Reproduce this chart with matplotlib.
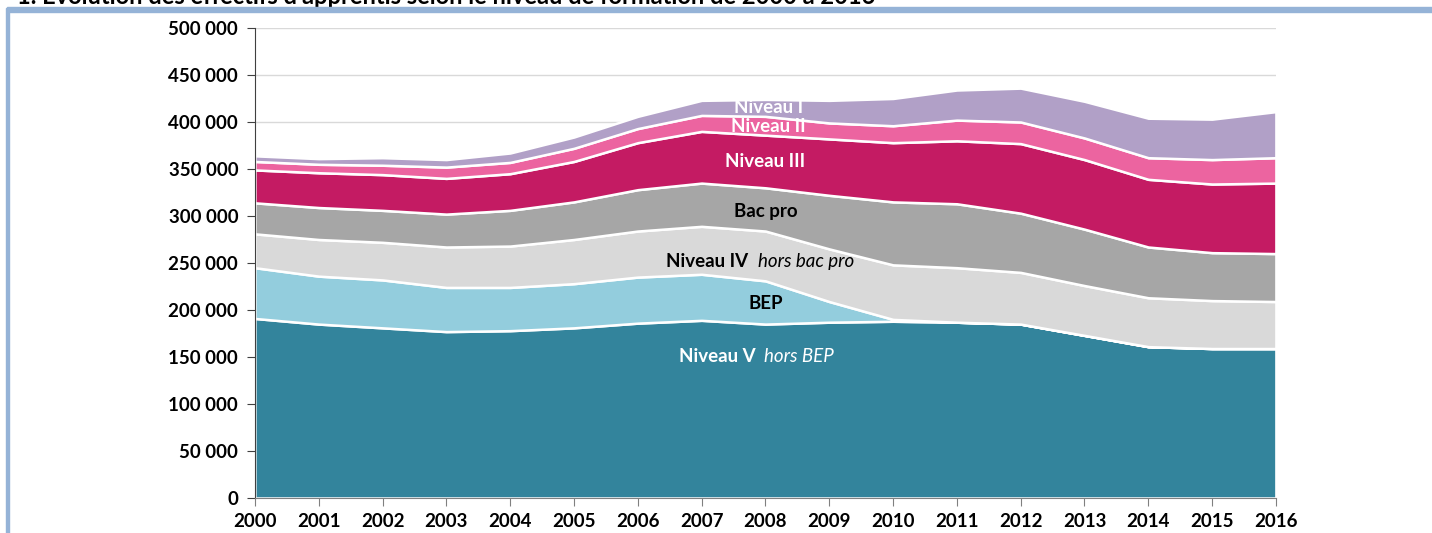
import matplotlib
matplotlib.use('Agg')
import matplotlib.pyplot as plt
from matplotlib.patches import Rectangle
from matplotlib.ticker import FuncFormatter

plt.rcParams['font.family'] = ['Lato', 'DejaVu Sans']

# effectifs d'apprentis par niveau
annees = list(range(2000, 2017))
niveau_v = [191000, 185000, 181000, 177000, 178000, 181000, 186000, 189000, 185000,
            187000, 188000, 187000, 185000, 173000, 161000, 159000, 159000]
bep = [54000, 51000, 51000, 47000, 46000, 47000, 49000, 49000, 46000,
       22000, 2000, 0, 0, 0, 0, 0, 0]
niveau_iv = [36000, 39000, 40000, 43000, 44000, 47000, 49000, 51000, 53000,
             56000, 58000, 58000, 55000, 53000, 52000, 51000, 50000]
bac_pro = [33000, 34000, 34000, 35000, 38000, 40000, 44000, 46000, 46000,
           57000, 67000, 68000, 63000, 60000, 54000, 51000, 51000]
niveau_iii = [35000, 37000, 38000, 38000, 39000, 43000, 50000, 55000, 56000,
              60000, 63000, 67000, 74000, 74000, 72000, 73000, 75000]
niveau_ii = [9000, 9000, 10000, 12000, 12000, 14000, 15000, 17000, 20000,
             17000, 18000, 22000, 23000, 23000, 23000, 26000, 27000]
niveau_i = [6000, 6000, 8000, 8000, 10000, 12000, 13000, 16000, 18000,
            24000, 29000, 32000, 36000, 39000, 42000, 43000, 49000]

series = [niveau_v, bep, niveau_iv, bac_pro, niveau_iii, niveau_ii, niveau_i]
couleurs = ['#33849C', '#93CDDD', '#D9D9D9', '#A6A6A6', '#C41B63', '#EC64A0', '#B1A0C7']

fig = plt.figure(figsize=(14.32, 5.33), dpi=100)
ax = fig.add_axes([0.178, 0.0657, 0.713, 0.8818])

ax.stackplot(annees, *series, colors=couleurs, edgecolor='white', linewidth=1.8)

ax.set_xlim(2000, 2016)
ax.set_ylim(0, 500000)
ax.set_yticks(range(0, 500001, 50000))
ax.set_xticks(annees)
ax.yaxis.set_major_formatter(FuncFormatter(lambda v, p: f"{int(v):,}".replace(',', ' ')))
ax.grid(axis='y', color='#D9D9D9', linewidth=1)
ax.set_axisbelow(True)
for s in ['top', 'right']:
    ax.spines[s].set_visible(False)
ax.spines['left'].set_color('#404040')
ax.spines['bottom'].set_color('#808080')
ax.tick_params(axis='y', length=6, color='#404040', labelsize=13.5, pad=6)
ax.tick_params(axis='x', length=6, color='#808080', labelsize=13.5, pad=5)
for lab in ax.get_xticklabels() + ax.get_yticklabels():
    lab.set_fontweight('bold')

# étiquettes des séries
kw = dict(fontsize=13.5, va='center')
ax.text(2008.05, 415000, 'Niveau I', color='white', fontweight='bold', ha='center', **kw)
ax.text(2008.05, 395500, 'Niveau II', color='white', fontweight='bold', ha='center', **kw)
ax.text(2008.0, 358000, 'Niveau III', color='white', fontweight='bold', ha='center', **kw)
ax.text(2008.0, 305000, 'Bac pro', color='black', fontweight='bold', ha='center', **kw)
ax.text(2007.73, 252000, 'Niveau IV', color='black', fontweight='bold', ha='right', **kw)
ax.text(2007.88, 252000, 'hors bac pro', color='black', style='italic', ha='left', **kw)
ax.text(2008.0, 207000, 'BEP', color='black', fontweight='bold', ha='center', **kw)
ax.text(2007.84, 151000, 'Niveau V', color='white', fontweight='bold', ha='right', **kw)
ax.text(2007.98, 151000, 'hors BEP', color='white', style='italic', ha='left', **kw)

# cadre et titre coupé en haut
fig.patches.append(Rectangle((0.005, 0.978), 0.995, 0.008, transform=fig.transFigure,
                             color='#95B3D7', zorder=5))
fig.patches.append(Rectangle((0.0045, 0.0), 0.002, 0.985, transform=fig.transFigure,
                             color='#95B3D7', zorder=5))
fig.text(0.012, 1 - 4 / 533, "1. Evolution des effectifs d'apprentis selon le niveau de formation de 2000 à 2016",
         fontsize=17, fontweight='bold', color='black', va='baseline', ha='left')

fig.savefig('out.png', dpi=100)
